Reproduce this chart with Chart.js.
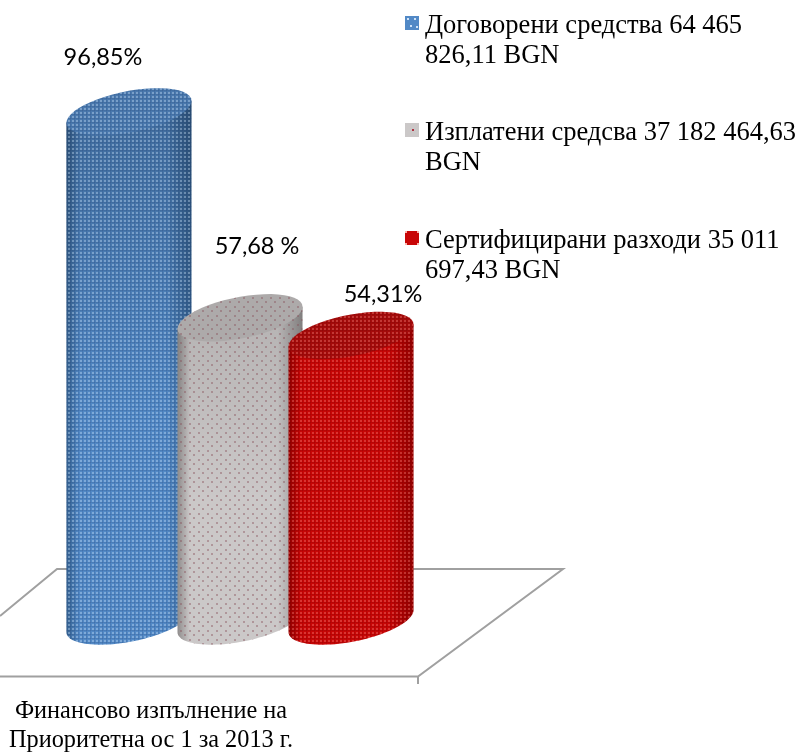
<!DOCTYPE html>
<html>
<head>
<meta charset="utf-8">
<script src="https://cdn.jsdelivr.net/npm/chart.js@4"></script>
<style>
  html, body { margin: 0; padding: 0; background: #fff; }
  #wrap { width: 801px; height: 753px; }
</style>
</head>
<body>
<div id="wrap"><canvas id="finChart" width="801" height="753"></canvas></div>
<script>
const categories = [['Финансово изпълнение на', 'Приоритетна ос 1 за 2013 г.']];
const seriesNames = ['Договорени средства', 'Изплатени средсва', 'Сертифицирани разходи'];
const seriesValues = [96.85, 57.68, 54.31];
const percentLabels = ['96,85%', '57,68 %', '54,31%'];
const legendLines = [
  ['Договорени средства 64 465', '826,11 BGN'],
  ['Изплатени средсва 37 182 464,63', 'BGN'],
  ['Сертифицирани разходи 35 011', '697,43 BGN']
];

// edge / middle / lid colours of each cylinder and the dotted texture on it
const looks = [
  { edge: '#34608f', mid: '#5289c6', lid: '#4a79ae', shade: 0.2, dot: 'rgba(205,228,250,0.36)', hole: 'rgba(30,60,110,0.16)', size: 4 },
  { edge: '#8f8c8c', mid: '#cbc8c8', lid: '#adaaaa', shade: 0.1, dot: 'rgba(135,80,90,0.42)', hole: null, size: 9 },
  { edge: '#930000', mid: '#c80606', lid: '#a60b0b', shade: 0, dot: 'rgba(255,150,140,0.32)', hole: 'rgba(90,0,0,0.14)', size: 4 }
];
const percentOffsets = [[-26, -54], [17, -71], [32, -41]];

function makeTexture(ctx, look) {
  const c = document.createElement('canvas');
  c.width = c.height = look.size;
  const p = c.getContext('2d');
  if (look.hole) {
    p.fillStyle = look.hole;
    p.fillRect(0, 2, 4, 1);
    p.fillRect(2, 0, 1, 4);
  }
  p.fillStyle = look.dot;
  p.fillRect(0, 0, 2, 2);
  if (look.size > 4) p.fillRect(4, 4, 2, 2);
  return ctx.createPattern(c, 'repeat');
}

// lid ellipse, sheared so the right end sits higher than the left
const RY = 21, SHEAR = 11;

function ellipseArc(ctx, cx, cy, rx, from, to) {
  const steps = 48;
  for (let i = 0; i <= steps; i++) {
    const t = from + (to - from) * i / steps;
    ctx.lineTo(cx + rx * Math.cos(t), cy - SHEAR * Math.cos(t) + RY * Math.sin(t));
  }
}

function drawCylinder(ctx, bar, look) {
  const rx = bar.width / 2, left = bar.x - rx, right = bar.x + rx;
  const tex = makeTexture(ctx, look);

  const g = ctx.createLinearGradient(left, 0, right, 0);
  g.addColorStop(0, look.edge);
  g.addColorStop(0.1, look.mid);
  g.addColorStop(0.8, look.mid);
  g.addColorStop(1, look.edge);

  const shade = ctx.createLinearGradient(0, bar.y, 0, bar.base);
  shade.addColorStop(0, 'rgba(0,0,0,' + look.shade + ')');
  shade.addColorStop(0.6, 'rgba(0,0,0,0)');

  ctx.beginPath();
  ctx.moveTo(right, bar.y - SHEAR);
  ctx.lineTo(right, bar.base - SHEAR);
  ellipseArc(ctx, bar.x, bar.base, rx, 0, Math.PI);
  ctx.lineTo(left, bar.y + SHEAR);
  ctx.closePath();
  ctx.fillStyle = g;
  ctx.fill();
  ctx.fillStyle = shade;
  ctx.fill();
  ctx.fillStyle = tex;
  ctx.fill();

  ctx.beginPath();
  ctx.moveTo(right, bar.y - SHEAR);
  ellipseArc(ctx, bar.x, bar.y, rx, 0, Math.PI * 2);
  ctx.closePath();
  ctx.fillStyle = look.lid;
  ctx.fill();
  ctx.fillStyle = tex;
  ctx.fill();
}

const cylinderPlugin = {
  id: 'cylinders',
  beforeDatasetsDraw(chart) {
    // floor of the 3D chart
    const ctx = chart.ctx;
    ctx.save();
    ctx.strokeStyle = '#a0a0a0';
    ctx.lineWidth = 2;
    ctx.beginPath();
    ctx.moveTo(0, 616);
    ctx.lineTo(57, 569);
    ctx.lineTo(563, 569);
    ctx.lineTo(418, 676.5);
    ctx.lineTo(0, 676.5);
    ctx.moveTo(418, 676.5);
    ctx.lineTo(418, 684);
    ctx.stroke();
    // chart.js walks datasets last to first, the overlap needs first to last
    seriesValues.forEach((v, i) => drawCylinder(ctx, chart.getDatasetMeta(i).data[0], looks[i]));
    ctx.restore();
  },
  beforeDatasetDraw() {
    return false;
  },
  afterDraw(chart) {
    const ctx = chart.ctx;
    ctx.save();
    ctx.fillStyle = '#000';
    ctx.textBaseline = 'middle';
    // percent labels
    ctx.font = '23.5px Lato';
    ctx.textAlign = 'center';
    percentLabels.forEach((txt, i) => {
      const bar = chart.getDatasetMeta(i).data[0];
      ctx.fillText(txt, bar.x + percentOffsets[i][0], bar.y + percentOffsets[i][1]);
    });
    // legend
    ctx.font = '26.5px "Liberation Serif"';
    ctx.textAlign = 'left';
    const legendY = [23, 130, 238];
    const legendDots = [
      [[407, 18, '#cfe2f7'], [414, 18, '#cfe2f7'], [410, 25, '#cfe2f7'], [416, 26, '#cfe2f7']],
      [[412, 129, '#b03040']],
      [[405, 231, '#ffb0a8'], [417, 231, '#ffb0a8'], [405, 243, '#ffb0a8'], [417, 243, '#ffb0a8']]
    ];
    legendLines.forEach((lines, i) => {
      ctx.fillStyle = looks[i].mid;
      ctx.fillRect(405, legendY[i] - 7, 14, 14);
      legendDots[i].forEach(d => {
        ctx.fillStyle = d[2];
        ctx.fillRect(d[0], d[1], 2, 2);
      });
      ctx.fillStyle = '#000';
      lines.forEach((line, j) => ctx.fillText(line, 425, legendY[i] + 3 + j * 30));
    });
    ctx.restore();
  }
};

new Chart(document.getElementById('finChart').getContext('2d'), {
  type: 'bar',
  data: {
    labels: categories,
    datasets: seriesNames.map((name, i) => ({
      label: name,
      data: [seriesValues[i]],
      backgroundColor: looks[i].mid
    }))
  },
  options: {
    responsive: false,
    animation: false,
    categoryPercentage: 0.694,
    barPercentage: 1.126,
    layout: { padding: { top: 69, right: 321, left: 0, bottom: 0 } },
    plugins: { legend: { display: false }, tooltip: { enabled: false } },
    scales: {
      x: {
        grid: { display: false },
        border: { display: false },
        afterFit(scale) { scale.height = 132; },
        ticks: {
          color: '#000',
          labelOffset: -89,
          padding: 68,
          maxRotation: 0,
          autoSkip: false,
          font: { family: 'Liberation Serif', size: 24.3, lineHeight: 1.2 }
        }
      },
      y: { display: false, min: 0, max: 105 }
    }
  },
  plugins: [cylinderPlugin]
});
</script>
</body>
</html>
